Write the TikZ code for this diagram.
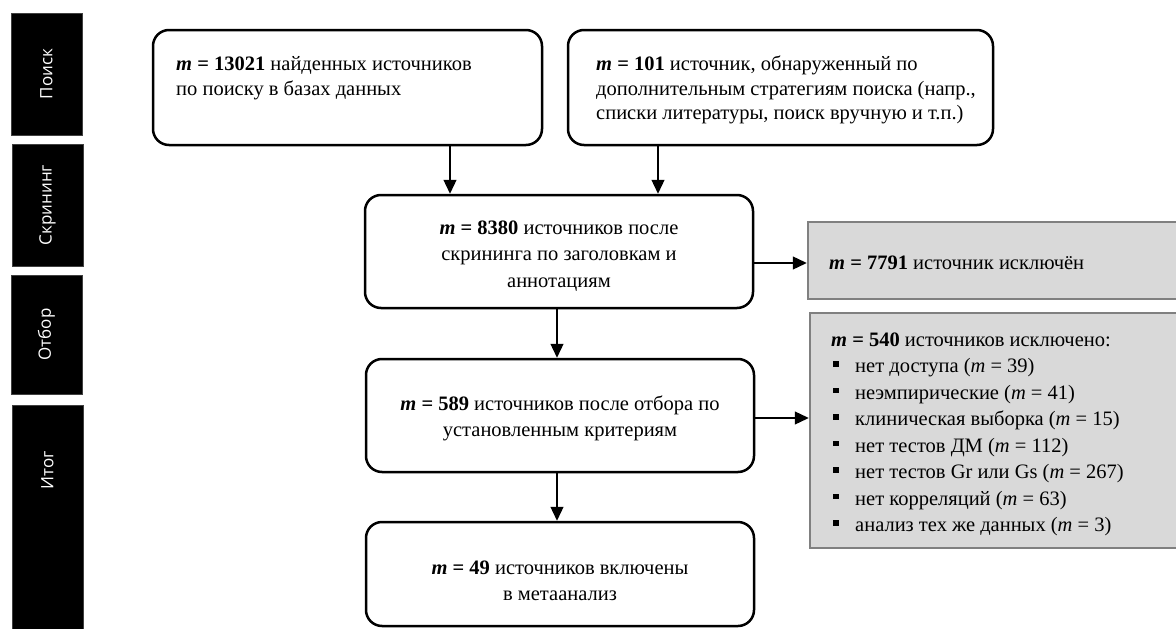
\documentclass[tikz,border=0pt]{standalone}
\usepackage{fontspec}
\setmainfont{Liberation Serif}
\newfontfamily\sidefont{Open Sans}
\usetikzlibrary{arrows.meta,calc}

% bold italic sample-size symbol
\newcommand{\mnum}[1]{\textbf{\textit{m} = #1}}
% square bullet for the exclusion list
\newcommand{\sqbul}{\hspace*{2pt}\rule[6pt]{6pt}{5.5pt}\hspace*{16pt}}

\begin{document}
\begin{tikzpicture}[x=1pt,y=-1pt,
  flowbox/.style={draw=black,line width=2.5pt,rounded corners=16pt,inner sep=0pt},
  greybox/.style={draw=black!50,fill=black!15,line width=2.5pt,inner sep=0pt},
  stagebox/.style={fill=black,draw=black!75,line width=0.8pt,inner sep=0pt},
  stagetext/.style={text=white,rotate=90,inner sep=0pt,font=\sidefont\fontsize{17}{20}\selectfont},
  txt/.style={inner sep=0pt,font=\fontsize{20.5}{25}\selectfont},
  listtxt/.style={inner sep=0pt,font=\fontsize{20.5}{26.5}\selectfont},
  flow/.style={line width=1.3pt,-{Triangle[length=14pt,width=13pt]}}
]
\clip (0,0) rectangle (1176,629);
\fill[white] (0,0) rectangle (1176,629);

% stage bars on the left
\node[stagebox,minimum width=71pt,minimum height=122pt] (s1) at (46.5,74) {};
\node[stagebox,minimum width=71pt,minimum height=122pt] (s2) at (47.5,205) {};
\node[stagebox,minimum width=71pt,minimum height=119pt] (s3) at (46.5,334.5) {};
\node[stagebox,minimum width=71pt,minimum height=235pt] (s4) at (47.5,522.5) {};
\node[stagetext] (s1t) at (46.5,74) {Поиск};
\node[stagetext] (s2t) at (47.5,205) {Скрининг};
\node[stagetext] (s3t) at (46.5,334.5) {Отбор};
\node[stagetext] (s4t) at (47.5,470) {Итог};

% flow boxes
\node[flowbox,minimum width=389pt,minimum height=115pt] (db) at (347.5,87.5) {};
\node[flowbox,minimum width=425pt,minimum height=115pt] (other) at (780.5,87.5) {};
\node[flowbox,minimum width=388pt,minimum height=113pt] (screen) at (559,251.5) {};
\node[flowbox,minimum width=388pt,minimum height=113pt] (select) at (560,415.5) {};
\node[flowbox,minimum width=388pt,minimum height=104pt] (final) at (560,574) {};

% exclusion boxes
\node[greybox,minimum width=382pt,minimum height=77pt] (ex1) at (999,260.5) {};
\node[greybox,minimum width=380pt,minimum height=235pt] (ex2) at (1000,430.5) {};

% box texts
\node[txt,anchor=base west] (dbt) at (176,70) {\begin{tabular}[t]{@{}l@{}}
  \mnum{13021} найденных источников\\
  по поиску в базах данных\end{tabular}};
\node[txt,anchor=base west] (othert) at (596,70) {\begin{tabular}[t]{@{}l@{}}
  \mnum{101} источник, обнаруженный по\\
  дополнительным стратегиям поиска (напр.,\\
  списки литературы, поиск вручную и т.п.)\end{tabular}};
\node[listtxt,anchor=base] (screent) at (559,234) {\begin{tabular}[t]{@{}c@{}}
  \mnum{8380} источников после\\
  скрининга по заголовкам и\\
  аннотациям\end{tabular}};
\node[listtxt,anchor=base] (selectt) at (560,410) {\begin{tabular}[t]{@{}c@{}}
  \mnum{589} источников после отбора по\\
  установленным критериям\end{tabular}};
\node[listtxt,anchor=base] (finalt) at (560,574) {\begin{tabular}[t]{@{}c@{}}
  \mnum{49} источников включены\\
  в метаанализ\end{tabular}};
\node[txt,anchor=base west] (ex1t) at (829,269) {\mnum{7791} источник исключён};
\node[listtxt,anchor=base west] (ex2t) at (831,346) {\begin{tabular}[t]{@{}l@{}}
  \mnum{540} источников исключено:\\
  \sqbul нет доступа (\textit{m} = 39)\\
  \sqbul неэмпирические (\textit{m} = 41)\\
  \sqbul клиническая выборка (\textit{m} = 15)\\
  \sqbul нет тестов ДМ (\textit{m} = 112)\\
  \sqbul нет тестов Gr или Gs (\textit{m} = 267)\\
  \sqbul нет корреляций (\textit{m} = 63)\\
  \sqbul анализ тех же данных (\textit{m} = 3)\end{tabular}};

% connector guide positions
\coordinate (ax1) at (450,0);
\coordinate (ax2) at (658,0);
\coordinate (ax3) at (557,0);
\coordinate (ay1) at (0,263);
\coordinate (ay2) at (0,418);

% connectors
\draw[flow] (db.south -| ax1) -- (screen.north -| ax1);
\draw[flow] (other.south -| ax2) -- (screen.north -| ax2);
\draw[flow] (screen.south -| ax3) -- (select.north -| ax3);
\draw[flow] (select.south -| ax3) -- (final.north -| ax3);
\draw[flow] (screen.east |- ay1) -- (ex1.west |- ay1);
\draw[flow] (select.east |- ay2) -- (ex2.west |- ay2);
\end{tikzpicture}
\end{document}
